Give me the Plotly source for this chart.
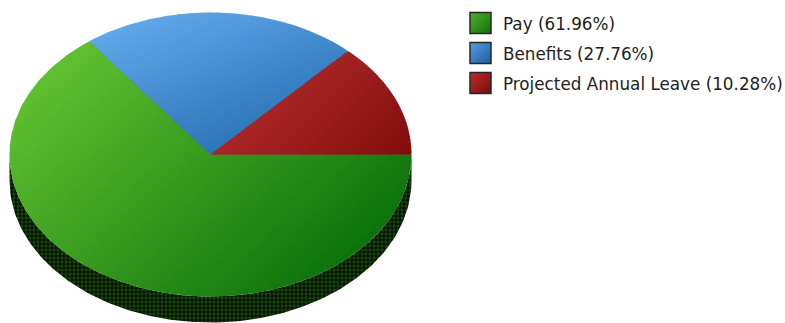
import math
import plotly.graph_objects as go

# Budget split shown on the pie, clockwise from three o'clock
categories = ["Pay", "Benefits", "Projected Annual Leave"]
shares = [61.96, 27.76, 10.28]

# (light, dark) ends of each slice's shading, and how steeply it runs downwards
slice_shades = [((96, 192, 48), (12, 115, 12)),
                ((96, 168, 234), (44, 117, 184)),
                ((170, 38, 38), (130, 12, 12))]
slice_tilts = [1.1, 2.5, 1.0]
swatch_shades = [((76, 176, 40), (22, 112, 12)),
                 ((84, 156, 224), (30, 96, 160)),
                 ((190, 44, 44), (120, 12, 12))]

WIDTH, HEIGHT = 785, 323
CX, CY, RX, RY, DEPTH = 210.5, 154.5, 201.0, 142.0, 26.0
BANDS = 48


def rim(angle, inset=0.0):
    """Point on the tilted disc's edge along a screen-space ray."""
    c, s = math.cos(angle), math.sin(angle)
    r = 1.0 / math.hypot(c / (RX - inset), s / (RY - inset))
    return CX + r * c, CY + r * s


def clip(poly, level, lo, hi):
    """Keep the part of a polygon where lo <= level(point) <= hi."""
    def cut(points, keep):
        out = []
        for i, p in enumerate(points):
            q = points[(i + 1) % len(points)]
            kp, kq = keep(p), keep(q)
            if kp >= 0:
                out.append(p)
            if kp * kq < 0:
                t = kp / (kp - kq)
                out.append((p[0] + t * (q[0] - p[0]), p[1] + t * (q[1] - p[1])))
        return out
    poly = cut(poly, lambda p: level(p) - lo)
    return cut(poly, lambda p: hi - level(p)) if poly else poly


def mix(a, b, t):
    return "rgb(%d,%d,%d)" % tuple(round(a[i] + (b[i] - a[i]) * t) for i in range(3))


def shaded(fig, poly, light, dark, tilt=1.0, bands=BANDS):
    """Fill a polygon with a linear gradient built from thin overlapping strips."""
    def level(p):
        return p[0] + tilt * p[1]

    values = [level(p) for p in poly]
    lo, hi = min(values), max(values)
    step = (hi - lo) / bands
    for k in range(bands):
        strip = clip(poly, level, lo + k * step, lo + (k + 1) * step + 1.2)
        if len(strip) < 3:
            continue
        fig.add_trace(go.Scatter(
            x=[p[0] for p in strip] + [strip[0][0]],
            y=[p[1] for p in strip] + [strip[0][1]],
            mode="lines", line=dict(width=0), fill="toself",
            fillcolor=mix(light, dark, (k + 0.5) / bands),
            hoverinfo="skip", showlegend=False))


fig = go.Figure()

# Visible wall of the disc, under the lower half of the rim
lower = [rim(math.pi * i / 180) for i in range(0, 181)]
wall = lower + [(x, y + DEPTH) for x, y in reversed(lower)]
fig.add_trace(go.Scatter(
    x=[p[0] for p in wall] + [wall[0][0]],
    y=[p[1] for p in wall] + [wall[0][1]],
    mode="lines", line=dict(width=0), fill="toself",
    fillpattern=dict(shape=".", size=4, solidity=0.55, bgcolor="#010a01", fgcolor="#2c8212"),
    hoverinfo="skip", showlegend=False))

# Backing disc, so no white shows through the seams between slices
backing = [rim(math.pi * i / 180, inset=1.5) for i in range(360)]
fig.add_trace(go.Scatter(
    x=[p[0] for p in backing] + [backing[0][0]],
    y=[p[1] for p in backing] + [backing[0][1]],
    mode="lines", line=dict(width=0), fill="toself", fillcolor="#3a7a4a",
    hoverinfo="skip", showlegend=False))

# Slices, sweeping clockwise from three o'clock in screen angle
start = 0.0
total = sum(shares)
for share, (light, dark), tilt in zip(shares, slice_shades, slice_tilts):
    sweep = 2 * math.pi * share / total
    steps = max(2, int(sweep * 60))
    arc = [rim(start + sweep * i / steps) for i in range(steps + 1)]
    shaded(fig, [(CX, CY)] + arc, light, dark, tilt)
    start += sweep

# Legend swatches and labels
annotations = []
for row, (name, share, (light, dark)) in enumerate(zip(categories, shares, swatch_shades)):
    top = 12.5 + row * 30
    box = [(470, top), (491, top), (491, top + 21), (470, top + 21)]
    shaded(fig, box, light, dark, bands=12)
    fig.add_shape(type="rect", x0=470, x1=491, y0=top, y1=top + 21,
                  line=dict(color="#262626", width=1.5), layer="above")
    annotations.append(dict(
        x=501, y=top + 11, xref="x", yref="y", xanchor="left", yanchor="middle",
        text=f"{name} ({share:.2f}%)", showarrow=False,
        font=dict(family="DejaVu Sans", size=16.8, color="#222222")))

fig.update_layout(
    width=WIDTH, height=HEIGHT, margin=dict(l=0, r=0, t=0, b=0),
    paper_bgcolor="white", plot_bgcolor="white", showlegend=False,
    annotations=annotations,
    xaxis=dict(range=[0, WIDTH], visible=False, fixedrange=True),
    yaxis=dict(range=[HEIGHT, 0], visible=False, fixedrange=True))

fig.write_html("out.html", config=dict(displayModeBar=False))
